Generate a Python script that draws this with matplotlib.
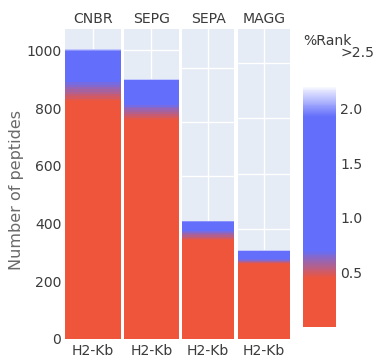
import matplotlib.pyplot as plt
from matplotlib.colors import LinearSegmentedColormap, Normalize
from matplotlib.cm import ScalarMappable

# peptides per sample, binned by %Rank (stacked low rank at the bottom)
samples = ['CNBR', 'SEPG', 'SEPA', 'MAGG']
allele = 'H2-Kb'
rank_levels = [0.2, 0.46, 0.49, 0.52, 0.55, 0.58, 0.61, 0.64, 0.67, 1.3, 2.0, 2.1]
counts_cnbr = [825, 8, 8, 8, 8, 8, 8, 8, 8, 110, 3, 2]
counts_sepg = [757, 7, 7, 7, 7, 7, 7, 6, 6, 86, 2, 2]
counts_sepa = [183, 2, 2, 2, 2, 2, 2, 2, 2, 17, 1, 1]
counts_magg = [136, 1, 1, 1, 1, 1, 1, 1, 2, 14, 1, 1]
all_counts = [counts_cnbr, counts_sepg, counts_sepa, counts_magg]

# each facet keeps its own y axis (only the first one is labelled)
y_max = [1074, 1074, 572, 562]
y_step = [200, 200, 100, 100]

red = '#EF553B'
blue = '#636EFA'
rank_max = 2.2
cmap = LinearSegmentedColormap.from_list(
    'rank', [(0, red), (0.44 / rank_max, red), (0.70 / rank_max, blue),
             (1.93 / rank_max, blue), (1.0, '#f6f7ff')])
norm = Normalize(0, rank_max)

W, H = 377, 360
fig = plt.figure(figsize=(W / 100, H / 100), dpi=100)
fs = 14 * 0.72
txt = '#3b3b3b'

def box(x0, y0, x1, y1):
    return [x0 / W, 1 - y1 / H, (x1 - x0) / W, (y1 - y0) / H]

panels = [(65.3, 120.7), (124, 178.7), (182.3, 234), (238, 290.3)]
for i, (x0, x1) in enumerate(panels):
    ax = fig.add_axes(box(x0, 29, x1, 339))
    ax.set_facecolor('#E5ECF6')
    bottom = 0
    for r, c in zip(rank_levels, all_counts[i]):
        ax.bar(0, c, bottom=bottom, width=1, color=cmap(norm(r)), linewidth=0,
               antialiased=False, zorder=3)
        bottom += c
    ax.set_xlim(-0.5, 0.5)
    ax.set_ylim(0, y_max[i])
    ax.set_yticks(range(0, y_max[i], y_step[i]))
    ax.set_xticks([0], [allele])
    ax.grid(True, color='white', linewidth=1.0, zorder=0)
    ax.set_axisbelow(True)
    for s in ax.spines.values():
        s.set_visible(False)
    ax.tick_params(length=0, labelsize=fs, labelcolor=txt, pad=3.6)
    if i > 0:
        ax.tick_params(axis='y', labelleft=False)
    else:
        ax.tick_params(axis='y', pad=2.9)
    fig.text((x0 + x1) / 2 / W, 1 - 19 / H, samples[i], ha='center', va='center',
             fontsize=fs, color=txt)

fig.text(17 / W, 1 - 190 / H, 'Number of peptides', rotation=90, ha='center', va='center',
         fontsize=16 * 0.72, color='#6a6a6a')

# colour bar for %Rank
cax = fig.add_axes(box(302.7, 86.7, 336, 326.7))
cb = fig.colorbar(ScalarMappable(norm=norm, cmap=cmap), cax=cax, ticks=[0.5, 1.0, 1.5, 2.0])
cb.outline.set_visible(False)
cb.ax.set_yticklabels(['0.5', '1.0', '1.5', '2.0'])
cb.ax.tick_params(length=0, labelsize=fs, labelcolor=txt, pad=3)
fig.text(303 / W, 1 - 40.7 / H, '%Rank', ha='left', va='center', fontsize=fs, color=txt)
fig.text(340 / W, 1 - 53 / H, '>2.5', ha='left', va='center', fontsize=fs, color=txt)

fig.savefig('out.png', dpi=100)
